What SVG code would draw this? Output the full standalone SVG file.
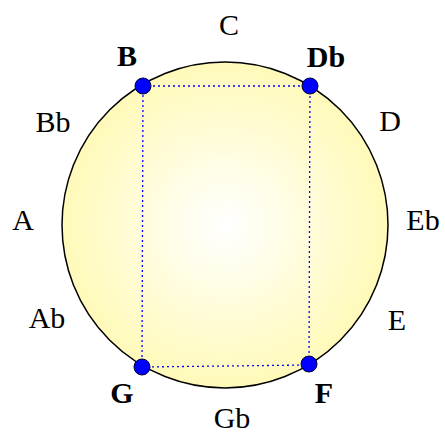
<svg xmlns="http://www.w3.org/2000/svg" width="445" height="433" viewBox="0 0 445 433">
<style>
.lbl{font-family:"Liberation Serif","Times New Roman","DejaVu Serif",serif;font-size:30px;fill:#000;text-anchor:middle}
.b{font-weight:bold}
.dot{fill:#0000FF;stroke:#000033;stroke-width:1}
.edge{stroke:#0000FF;stroke-width:1.3;stroke-dasharray:2 3;fill:none}
</style>
<defs>
<radialGradient id="g" cx="0.5" cy="0.5" r="0.5">
<stop offset="0" stop-color="#FFFFFF"/>
<stop offset="1" stop-color="#FFFAB9"/>
</radialGradient>
</defs>
<g id="circle"><circle cx="225" cy="225" r="163" fill="url(#g)" stroke="#000" stroke-width="1.5"/></g>
<g id="connectors">
<line class="edge" x1="143" y1="86" x2="310" y2="86"/>
<line class="edge" x1="310" y1="86" x2="309" y2="365"/>
<line class="edge" x1="309" y1="365" x2="142" y2="367"/>
<line class="edge" x1="142" y1="367" x2="143" y2="86"/>
</g>
<g id="node-B"><circle class="dot" cx="143" cy="86" r="8"/><text class="lbl b" font-family="Liberation Serif, serif" x="127" y="66">B</text></g>
<g id="node-Db"><circle class="dot" cx="310" cy="86" r="8"/><text class="lbl b" font-family="Liberation Serif, serif" x="326" y="67">Db</text></g>
<g id="node-G"><circle class="dot" cx="142" cy="367" r="8"/><text class="lbl b" font-family="Liberation Serif, serif" x="122" y="403">G</text></g>
<g id="node-F"><circle class="dot" cx="309" cy="364" r="8"/><text class="lbl b" font-family="Liberation Serif, serif" x="324" y="403">F</text></g>
<g id="node-C"><text class="lbl" font-family="Liberation Serif, serif" x="229" y="35">C</text></g>
<g id="node-D"><text class="lbl" font-family="Liberation Serif, serif" x="390" y="131">D</text></g>
<g id="node-Eb"><text class="lbl" font-family="Liberation Serif, serif" x="423" y="230">Eb</text></g>
<g id="node-E"><text class="lbl" font-family="Liberation Serif, serif" x="397" y="330">E</text></g>
<g id="node-Gb"><text class="lbl" font-family="Liberation Serif, serif" x="232" y="428">Gb</text></g>
<g id="node-Ab"><text class="lbl" font-family="Liberation Serif, serif" x="47" y="328">Ab</text></g>
<g id="node-A"><text class="lbl" font-family="Liberation Serif, serif" x="23" y="230">A</text></g>
<g id="node-Bb"><text class="lbl" font-family="Liberation Serif, serif" x="53" y="132">Bb</text></g>
</svg>
